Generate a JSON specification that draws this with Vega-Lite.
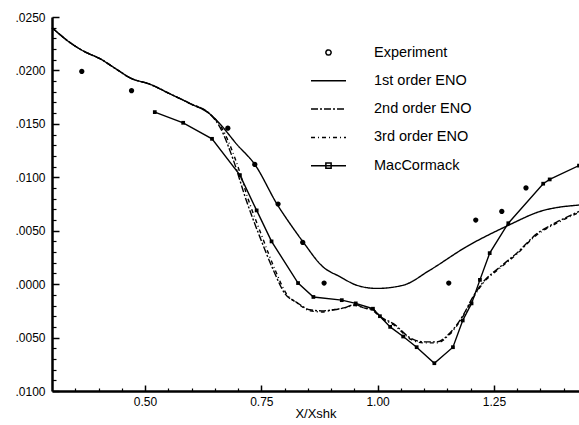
{
  "$schema": "https://vega.github.io/schema/vega-lite/v6.json",
  "width": 527,
  "height": 374,
  "autosize": {"type": "none"},
  "padding": {"left": 52, "top": 17, "right": 0, "bottom": 34},
  "background": "white",
  "config": {
    "view": {"stroke": null},
    "font": "Liberation Sans",
    "axis": {"grid": false, "domainColor": "black", "tickColor": "black", "labelColor": "black", "titleColor": "black", "labelFont": "Liberation Sans", "titleFont": "Liberation Sans"}
  },
  "datasets": {
    "curves": [
      {"s": "1st order ENO", "x": 0.300, "y": 0.0240}, {"s": "1st order ENO", "x": 0.339, "y": 0.0226}, {"s": "1st order ENO", "x": 0.368, "y": 0.0218}, {"s": "1st order ENO", "x": 0.403, "y": 0.0211}, {"s": "1st order ENO", "x": 0.439, "y": 0.0201}, {"s": "1st order ENO", "x": 0.468, "y": 0.0193}, {"s": "1st order ENO", "x": 0.511, "y": 0.0187}, {"s": "1st order ENO", "x": 0.554, "y": 0.0178}, {"s": "1st order ENO", "x": 0.597, "y": 0.0169}, {"s": "1st order ENO", "x": 0.640, "y": 0.0159},
      {"s": "1st order ENO", "x": 0.661, "y": 0.0150}, {"s": "1st order ENO", "x": 0.697, "y": 0.0131}, {"s": "1st order ENO", "x": 0.736, "y": 0.0112}, {"s": "1st order ENO", "x": 0.785, "y": 0.0074}, {"s": "1st order ENO", "x": 0.811, "y": 0.0057}, {"s": "1st order ENO", "x": 0.839, "y": 0.0040}, {"s": "1st order ENO", "x": 0.883, "y": 0.0016}, {"s": "1st order ENO", "x": 0.919, "y": 0.0007}, {"s": "1st order ENO", "x": 0.955, "y": -0.0001}, {"s": "1st order ENO", "x": 0.998, "y": -0.0004}, {"s": "1st order ENO", "x": 1.055, "y": -0.0001}, {"s": "1st order ENO", "x": 1.112, "y": 0.0013}, {"s": "1st order ENO", "x": 1.191, "y": 0.0035}, {"s": "1st order ENO", "x": 1.281, "y": 0.0055}, {"s": "1st order ENO", "x": 1.349, "y": 0.0068}, {"s": "1st order ENO", "x": 1.433, "y": 0.0074},

      {"s": "2nd order ENO", "x": 0.300, "y": 0.0240}, {"s": "2nd order ENO", "x": 0.339, "y": 0.0226}, {"s": "2nd order ENO", "x": 0.368, "y": 0.0218}, {"s": "2nd order ENO", "x": 0.403, "y": 0.0211}, {"s": "2nd order ENO", "x": 0.439, "y": 0.0201}, {"s": "2nd order ENO", "x": 0.468, "y": 0.0193}, {"s": "2nd order ENO", "x": 0.511, "y": 0.0187}, {"s": "2nd order ENO", "x": 0.554, "y": 0.0178}, {"s": "2nd order ENO", "x": 0.597, "y": 0.0169}, {"s": "2nd order ENO", "x": 0.640, "y": 0.0159},
      {"s": "2nd order ENO", "x": 0.661, "y": 0.0147}, {"s": "2nd order ENO", "x": 0.690, "y": 0.0116}, {"s": "2nd order ENO", "x": 0.718, "y": 0.0078}, {"s": "2nd order ENO", "x": 0.747, "y": 0.0044}, {"s": "2nd order ENO", "x": 0.776, "y": 0.0013}, {"s": "2nd order ENO", "x": 0.801, "y": -0.0009}, {"s": "2nd order ENO", "x": 0.826, "y": -0.0017}, {"s": "2nd order ENO", "x": 0.854, "y": -0.0024}, {"s": "2nd order ENO", "x": 0.880, "y": -0.0025}, {"s": "2nd order ENO", "x": 0.905, "y": -0.0024}, {"s": "2nd order ENO", "x": 0.930, "y": -0.0022}, {"s": "2nd order ENO", "x": 0.951, "y": -0.0019}, {"s": "2nd order ENO", "x": 0.969, "y": -0.0022}, {"s": "2nd order ENO", "x": 0.991, "y": -0.0024}, {"s": "2nd order ENO", "x": 1.005, "y": -0.0030}, {"s": "2nd order ENO", "x": 1.034, "y": -0.0037}, {"s": "2nd order ENO", "x": 1.073, "y": -0.0051}, {"s": "2nd order ENO", "x": 1.098, "y": -0.0054}, {"s": "2nd order ENO", "x": 1.127, "y": -0.0054}, {"s": "2nd order ENO", "x": 1.155, "y": -0.0046}, {"s": "2nd order ENO", "x": 1.184, "y": -0.0029}, {"s": "2nd order ENO", "x": 1.205, "y": -0.0012}, {"s": "2nd order ENO", "x": 1.227, "y": 0.0002}, {"s": "2nd order ENO", "x": 1.263, "y": 0.0016}, {"s": "2nd order ENO", "x": 1.299, "y": 0.0029}, {"s": "2nd order ENO", "x": 1.342, "y": 0.0047}, {"s": "2nd order ENO", "x": 1.385, "y": 0.0058}, {"s": "2nd order ENO", "x": 1.433, "y": 0.0068},

      {"s": "3rd order ENO", "x": 0.300, "y": 0.0240}, {"s": "3rd order ENO", "x": 0.339, "y": 0.0226}, {"s": "3rd order ENO", "x": 0.368, "y": 0.0218}, {"s": "3rd order ENO", "x": 0.403, "y": 0.0211}, {"s": "3rd order ENO", "x": 0.439, "y": 0.0201}, {"s": "3rd order ENO", "x": 0.468, "y": 0.0193}, {"s": "3rd order ENO", "x": 0.511, "y": 0.0187}, {"s": "3rd order ENO", "x": 0.554, "y": 0.0178}, {"s": "3rd order ENO", "x": 0.597, "y": 0.0169}, {"s": "3rd order ENO", "x": 0.640, "y": 0.0159},
      {"s": "3rd order ENO", "x": 0.664, "y": 0.0147}, {"s": "3rd order ENO", "x": 0.695, "y": 0.0116}, {"s": "3rd order ENO", "x": 0.723, "y": 0.0078}, {"s": "3rd order ENO", "x": 0.752, "y": 0.0044}, {"s": "3rd order ENO", "x": 0.780, "y": 0.0013}, {"s": "3rd order ENO", "x": 0.804, "y": -0.0009}, {"s": "3rd order ENO", "x": 0.828, "y": -0.0018}, {"s": "3rd order ENO", "x": 0.855, "y": -0.0025}, {"s": "3rd order ENO", "x": 0.880, "y": -0.0026}, {"s": "3rd order ENO", "x": 0.905, "y": -0.0024}, {"s": "3rd order ENO", "x": 0.930, "y": -0.0022}, {"s": "3rd order ENO", "x": 0.951, "y": -0.0020}, {"s": "3rd order ENO", "x": 0.969, "y": -0.0022}, {"s": "3rd order ENO", "x": 0.991, "y": -0.0025}, {"s": "3rd order ENO", "x": 1.005, "y": -0.0031}, {"s": "3rd order ENO", "x": 1.034, "y": -0.0038}, {"s": "3rd order ENO", "x": 1.073, "y": -0.0052}, {"s": "3rd order ENO", "x": 1.098, "y": -0.0055}, {"s": "3rd order ENO", "x": 1.127, "y": -0.0055}, {"s": "3rd order ENO", "x": 1.155, "y": -0.0047}, {"s": "3rd order ENO", "x": 1.184, "y": -0.0030}, {"s": "3rd order ENO", "x": 1.205, "y": -0.0013}, {"s": "3rd order ENO", "x": 1.227, "y": 0.0001}, {"s": "3rd order ENO", "x": 1.263, "y": 0.0015}, {"s": "3rd order ENO", "x": 1.299, "y": 0.0028}, {"s": "3rd order ENO", "x": 1.342, "y": 0.0046}, {"s": "3rd order ENO", "x": 1.385, "y": 0.0057}, {"s": "3rd order ENO", "x": 1.433, "y": 0.0067}
    ],
    "mac": [
      {"s": "MacCormack", "x": 0.521, "y": 0.0161}, {"s": "MacCormack", "x": 0.582, "y": 0.0151}, {"s": "MacCormack", "x": 0.644, "y": 0.0136}, {"s": "MacCormack", "x": 0.704, "y": 0.0102}, {"s": "MacCormack", "x": 0.740, "y": 0.0069}, {"s": "MacCormack", "x": 0.772, "y": 0.0040}, {"s": "MacCormack", "x": 0.829, "y": 0.0001}, {"s": "MacCormack", "x": 0.862, "y": -0.0012}, {"s": "MacCormack", "x": 0.923, "y": -0.0015}, {"s": "MacCormack", "x": 0.953, "y": -0.0018}, {"s": "MacCormack", "x": 0.990, "y": -0.0023}, {"s": "MacCormack", "x": 1.005, "y": -0.0030}, {"s": "MacCormack", "x": 1.027, "y": -0.0040}, {"s": "MacCormack", "x": 1.055, "y": -0.0049}, {"s": "MacCormack", "x": 1.084, "y": -0.0059}, {"s": "MacCormack", "x": 1.122, "y": -0.0074}, {"s": "MacCormack", "x": 1.162, "y": -0.0059}, {"s": "MacCormack", "x": 1.183, "y": -0.0034}, {"s": "MacCormack", "x": 1.202, "y": -0.0018}, {"s": "MacCormack", "x": 1.220, "y": 0.0004}, {"s": "MacCormack", "x": 1.241, "y": 0.0029}, {"s": "MacCormack", "x": 1.281, "y": 0.0057}, {"s": "MacCormack", "x": 1.356, "y": 0.0094}, {"s": "MacCormack", "x": 1.370, "y": 0.0098}, {"s": "MacCormack", "x": 1.433, "y": 0.0111}
    ],
    "exp": [
      {"s": "Experiment", "x": 0.364, "y": 0.0199}, {"s": "Experiment", "x": 0.471, "y": 0.0181}, {"s": "Experiment", "x": 0.678, "y": 0.0146}, {"s": "Experiment", "x": 0.736, "y": 0.0112}, {"s": "Experiment", "x": 0.786, "y": 0.0075}, {"s": "Experiment", "x": 0.839, "y": 0.0039}, {"s": "Experiment", "x": 0.885, "y": 0.0001}, {"s": "Experiment", "x": 1.153, "y": 0.0001}, {"s": "Experiment", "x": 1.211, "y": 0.0060}, {"s": "Experiment", "x": 1.267, "y": 0.0068}, {"s": "Experiment", "x": 1.319, "y": 0.0090}
    ]
  },
  "resolve": {"axis": {"x": "independent", "y": "independent"}},
  "layer": [
    {
      "data": {"name": "curves"},
      "mark": {"type": "line", "color": "black", "strokeWidth": 1.4, "interpolate": "monotone"},
      "encoding": {
        "x": {"field": "x", "type": "quantitative", "scale": {"domain": [0.3, 1.433], "nice": false, "zero": false},
              "axis": {"orient": "bottom", "domain": true, "ticks": false, "values": [0.5, 0.75, 1.0, 1.25], "format": ".2f", "title": "X/Xshk", "domainWidth": 2.5, "labelFontSize": 12, "labelPadding": 5, "titleFontSize": 13, "titleFontWeight": "normal", "titlePadding": 0, "labelFlush": false}},
        "y": {"field": "y", "type": "quantitative", "scale": {"domain": [-0.01, 0.025], "nice": false, "zero": false},
              "axis": {"orient": "left", "domain": true, "ticks": false, "values": [-0.01, -0.005, 0, 0.005, 0.01, 0.015, 0.02, 0.025], "labelExpr": "replace(format(abs(datum.value), '.4f'), '0.', '.')", "title": null, "domainWidth": 2.5, "labelFontSize": 12, "labelPadding": 7, "labelFlush": false}},
        "detail": {"field": "s"},
        "strokeDash": {"field": "s", "type": "nominal",
                       "scale": {"domain": ["Experiment", "1st order ENO", "2nd order ENO", "3rd order ENO", "MacCormack"], "range": [[1, 0], [1, 0], [7, 2, 2, 2], [4, 3, 1, 3], [1, 0]]},
                       "legend": {"orient": "none", "legendX": 267, "legendY": 26, "title": null, "symbolSize": 306, "symbolStrokeWidth": 1.5, "symbolStrokeColor": "black", "symbolFillColor": "white", "labelFontSize": 14.5, "labelOffset": 36, "rowPadding": 12.3, "padding": 0, "labelFont": "Liberation Sans", "labelColor": "black",
                                  "encode": {"symbols": {"update": {"stroke": {"value": "black"}, "strokeWidth": {"value": 1.5}, "fill": {"value": "white"}}}}}}
      }
    },
    {
      "data": {"name": "mac"},
      "mark": {"type": "line", "color": "black", "strokeWidth": 1.4, "point": {"shape": "square", "size": 14, "filled": true, "color": "black"}},
      "encoding": {
        "x": {"field": "x", "type": "quantitative",
              "axis": {"orient": "bottom", "values": [0.5, 0.75, 1.0, 1.25], "labels": false, "title": null, "domain": false, "ticks": true, "tickSize": 6, "tickWidth": 1.5, "offset": -6}},
        "y": {"field": "y", "type": "quantitative",
              "axis": {"orient": "left", "values": [-0.01, -0.005, 0, 0.005, 0.01, 0.015, 0.02, 0.025], "labels": false, "title": null, "domain": false, "ticks": true, "tickSize": 7, "tickWidth": 1.5, "offset": -7}}
      }
    },
    {
      "data": {"name": "exp"},
      "mark": {"type": "point", "filled": true, "color": "black", "size": 306, "opacity": 1},
      "encoding": {
        "x": {"field": "x", "type": "quantitative",
              "axis": {"orient": "bottom", "values": [0.35, 0.4, 0.45, 0.55, 0.6, 0.65, 0.7, 0.8, 0.85, 0.9, 0.95, 1.05, 1.1, 1.15, 1.2, 1.3, 1.35, 1.4], "labels": false, "title": null, "ticks": true, "tickSize": 3, "tickWidth": 1.2, "domain": false, "offset": -3}},
        "y": {"field": "y", "type": "quantitative",
              "axis": {"orient": "left", "values": [-0.009, -0.008, -0.007, -0.006, -0.004, -0.003, -0.002, -0.001, 0.001, 0.002, 0.003, 0.004, 0.006, 0.007, 0.008, 0.009, 0.011, 0.012, 0.013, 0.014, 0.016, 0.017, 0.018, 0.019, 0.021, 0.022, 0.023, 0.024], "labels": false, "title": null, "ticks": true, "tickSize": 4, "tickWidth": 1.2, "domain": false, "offset": -4}},
        "shape": {"field": "s", "type": "nominal",
                  "scale": {"domain": ["Experiment", "1st order ENO", "2nd order ENO", "3rd order ENO", "MacCormack"],
                            "range": ["M-0.3,0A0.3,0.3 0 1,0 0.3,0A0.3,0.3 0 1,0 -0.3,0Z", "M-2,0H2", "M-2,0H2", "M-2,0H2", "M-2,0H2M-0.3,-0.3H0.3V0.3H-0.3Z"]},
                  "legend": {"orient": "none", "legendX": 267, "legendY": 26, "title": null, "symbolSize": 306, "symbolStrokeWidth": 1.5, "symbolStrokeColor": "black", "symbolFillColor": "white", "labelFontSize": 14.5, "labelOffset": 36, "rowPadding": 12.3, "padding": 0, "labelFont": "Liberation Sans", "labelColor": "black",
                             "encode": {"symbols": {"update": {"stroke": {"value": "black"}, "strokeWidth": {"value": 1.5}, "fill": {"value": "white"}}}}}}
      }
    }
  ]
}
